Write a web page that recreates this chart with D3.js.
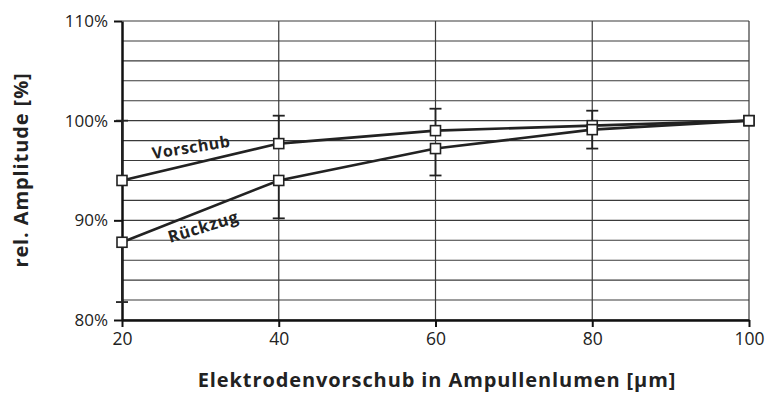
<!DOCTYPE html>
<html>
<head>
<meta charset="utf-8">
<script src="https://cdn.jsdelivr.net/npm/d3@7"></script>
<style>
  html, body { margin: 0; padding: 0; background: #fff; }
  svg { display: block; }
  svg text { font-family: "Open Sans", "Noto Sans", sans-serif; fill: #222; }
</style>
</head>
<body>
<svg id="chart" width="767" height="393"></svg>
<script>
// Electrode feed positions (µm)
const positions = [20, 40, 60, 80, 100];
// Relative amplitude (%) while advancing
const vorschub = [94.0, 97.7, 99.0, 99.5, 100];
// Upward error (percentage points) for the advancing series
const vorschubErr = [6.0, 2.8, 2.2, 1.5, 0];
// Relative amplitude (%) while retracting
const rueckzug = [87.8, 94.0, 97.2, 99.1, 100];
// Downward error (percentage points) for the retracting series
const rueckzugErr = [6.0, 3.8, 2.7, 1.9, 0];
// Axis ticks
const xTicks = [20, 40, 60, 80, 100];
const yTicks = [80, 90, 100, 110];
const yGrid = d3.range(80, 111, 2);

const svg = d3.select("#chart");
const plotLeft = 122, plotRight = 749, plotTop = 21, plotBottom = 320;

const x = d3.scaleLinear().domain([20, 100]).range([plotLeft, plotRight]);
const y = d3.scaleLinear().domain([80, 110]).range([plotBottom, plotTop]);

// Horizontal grid every 2 %
svg.append("g")
  .selectAll("line").data(yGrid).join("line")
  .attr("x1", plotLeft).attr("x2", plotRight)
  .attr("y1", d => y(d)).attr("y2", d => y(d))
  .attr("stroke", "#3a3a3a").attr("stroke-width", 1.1);

// Vertical grid
svg.append("g")
  .selectAll("line").data(xTicks.slice(1)).join("line")
  .attr("x1", d => x(d)).attr("x2", d => x(d))
  .attr("y1", plotTop).attr("y2", plotBottom)
  .attr("stroke", "#3a3a3a").attr("stroke-width", 1.2);

// Axes
const yAxis = d3.axisLeft(y).tickValues(yTicks).tickSize(8).tickPadding(6).tickSizeOuter(0)
  .tickFormat(d => d + "%");
const gy = svg.append("g").attr("transform", `translate(${plotLeft},0)`).call(yAxis)
  .attr("font-size", 17).attr("font-family", "'Open Sans', sans-serif");
gy.select(".domain").attr("stroke", "#111").attr("stroke-width", 2.5);
gy.selectAll(".tick line").attr("stroke", "#111").attr("stroke-width", 2);
gy.selectAll(".tick text").attr("fill", "#222");

const xAxis = d3.axisBottom(x).tickValues(xTicks).tickSize(7).tickPadding(6).tickSizeOuter(0);
const gx = svg.append("g").attr("transform", `translate(0,${plotBottom})`).call(xAxis)
  .attr("font-size", 17.5).attr("font-family", "'Open Sans', sans-serif");
gx.select(".domain").attr("stroke", "#111").attr("stroke-width", 2.5);
gx.selectAll(".tick line").attr("stroke", "#111").attr("stroke-width", 2);
gx.selectAll(".tick text").attr("fill", "#222");

// Error bars: advancing series upward, retracting series downward
const errG = svg.append("g").attr("stroke", "#222").attr("stroke-width", 1.8);
function errorBars(vals, errs, dir) {
  vals.forEach((v, i) => {
    if (!errs[i]) return;
    const e = v + dir * errs[i];
    errG.append("line").attr("x1", x(positions[i])).attr("x2", x(positions[i]))
      .attr("y1", y(v)).attr("y2", y(e));
    errG.append("line").attr("x1", x(positions[i]) - 6).attr("x2", x(positions[i]) + 6)
      .attr("y1", y(e)).attr("y2", y(e));
  });
}
errorBars(vorschub, vorschubErr, 1);
errorBars(rueckzug, rueckzugErr, -1);

// Series lines
const line = d3.line().x((d, i) => x(positions[i])).y(d => y(d));
[vorschub, rueckzug].forEach(s => {
  svg.append("path").datum(s).attr("d", line)
    .attr("fill", "none").attr("stroke", "#222").attr("stroke-width", 2.6);
});

// Square markers
[vorschub, rueckzug].forEach(s => {
  svg.append("g").selectAll("rect").data(s).join("rect")
    .attr("x", (d, i) => x(positions[i]) - 5).attr("y", d => y(d) - 5)
    .attr("width", 10).attr("height", 10)
    .attr("fill", "#fff").attr("stroke", "#222").attr("stroke-width", 1.6);
});

// Series labels along the lines
svg.append("text").text("Vorschub")
  .attr("transform", "translate(153,159) rotate(-9)")
  .style("font-size", "16px").style("font-weight", "bold").style("letter-spacing", "0.5px");
svg.append("text").text("Rückzug")
  .attr("transform", "translate(170,243) rotate(-17)")
  .style("font-size", "16.5px").style("font-weight", "bold").style("letter-spacing", "0.6px");

// Axis titles
svg.append("text").text("Elektrodenvorschub in Ampullenlumen [µm]")
  .attr("x", 437).attr("y", 387).attr("text-anchor", "middle")
  .style("font-size", "20px").style("font-weight", "bold").style("letter-spacing", "0.9px");
svg.append("text").text("rel. Amplitude [%]")
  .attr("transform", "translate(28,170) rotate(-90)").attr("text-anchor", "middle")
  .style("font-size", "20px").style("font-weight", "bold").style("letter-spacing", "0.9px");
</script>
</body>
</html>
